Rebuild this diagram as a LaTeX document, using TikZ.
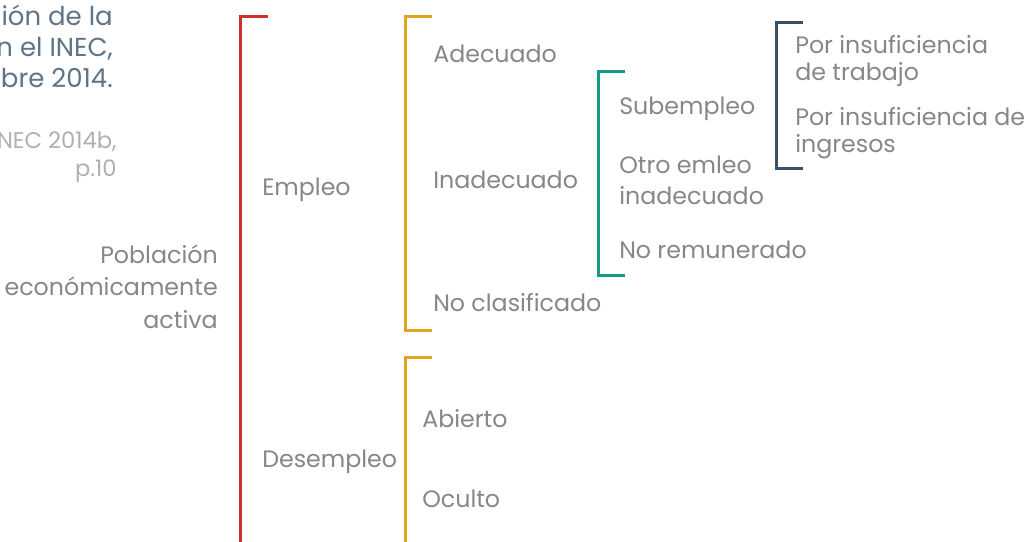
\documentclass[tikz,border=0pt]{standalone}
\usepackage{fontspec}
\setmainfont{Poppins}
\definecolor{lblgray}{HTML}{878787}
\definecolor{titleblue}{HTML}{5E7489}
\definecolor{srcgray}{HTML}{B0B0B0}
\definecolor{bred}{HTML}{D0302C}
\definecolor{bgold}{HTML}{E0A41E}
\definecolor{bteal}{HTML}{17998B}
\definecolor{bslate}{HTML}{36506A}
\begin{document}
\begin{tikzpicture}[x=0.75pt,y=-0.75pt,
  lbl/.style={font=\fontsize{17.8}{20}\selectfont,text=lblgray,inner sep=0pt,anchor=base west},
  lblr/.style={lbl,anchor=base east},
  ttl/.style={lblr,text=titleblue,font=\fontsize{19.5}{22}\selectfont},
  src/.style={lblr,text=srcgray,font=\fontsize{17}{20}\selectfont},
  brk/.style={line width=2.25pt}]
\clip (0,0) rectangle (1025,542);
\fill[white] (0,0) rectangle (1025,542);
% brackets
\draw[brk,bred]   (268,17) -- (240,17) -- (240,570);
\draw[brk,bgold]  (432,17) -- (405,17) -- (405,330) -- (432,330);
\draw[brk,bgold]  (432,357) -- (405,357) -- (405,570);
\draw[brk,bteal]  (625,72) -- (598,72) -- (598,275) -- (625,275);
\draw[brk,bslate] (803,23) -- (776,23) -- (776,168) -- (803,168);
% title and source
\node[ttl] (t1) at (113,26) {ión de la};
\node[ttl] (t2) at (113,57) {n el INEC,};
\node[ttl] (t3) at (113,88) {bre 2014.};
\node[src] (s1) at (117,148) {NEC 2014b,};
\node[src] (s2) at (117,176) {p.10};
% root
\node[lblr] (pea1) at (218,263) {Población};
\node[lblr] (pea2) at (218,295) {económicamente};
\node[lblr] (pea3) at (218,328) {activa};
% level 1
\node[lbl] (emp) at (262,195) {Empleo};
\node[lbl] (des) at (262,467) {Desempleo};
% level 2
\node[lbl] (ade) at (433,63) {Adecuado};
\node[lbl] (ina) at (433,188) {Inadecuado};
\node[lbl] (ncl) at (433,311) {No clasificado};
\node[lbl] (abi) at (422,427) {Abierto};
\node[lbl] (ocu) at (422,507) {Oculto};
% level 3
\node[lbl] (sub) at (619,114) {Subempleo};
\node[lbl] (otr1) at (619,173) {Otro emleo};
\node[lbl] (otr2) at (619,204) {inadecuado};
\node[lbl] (nre) at (619,258) {No remunerado};
% level 4
\node[lbl] (pit1) at (795,54) {Por insuficiencia};
\node[lbl] (pit2) at (795,80) {de trabajo};
\node[lbl] (pii1) at (795,126) {Por insuficiencia de};
\node[lbl] (pii2) at (795,152) {ingresos};
\end{tikzpicture}
\end{document}
